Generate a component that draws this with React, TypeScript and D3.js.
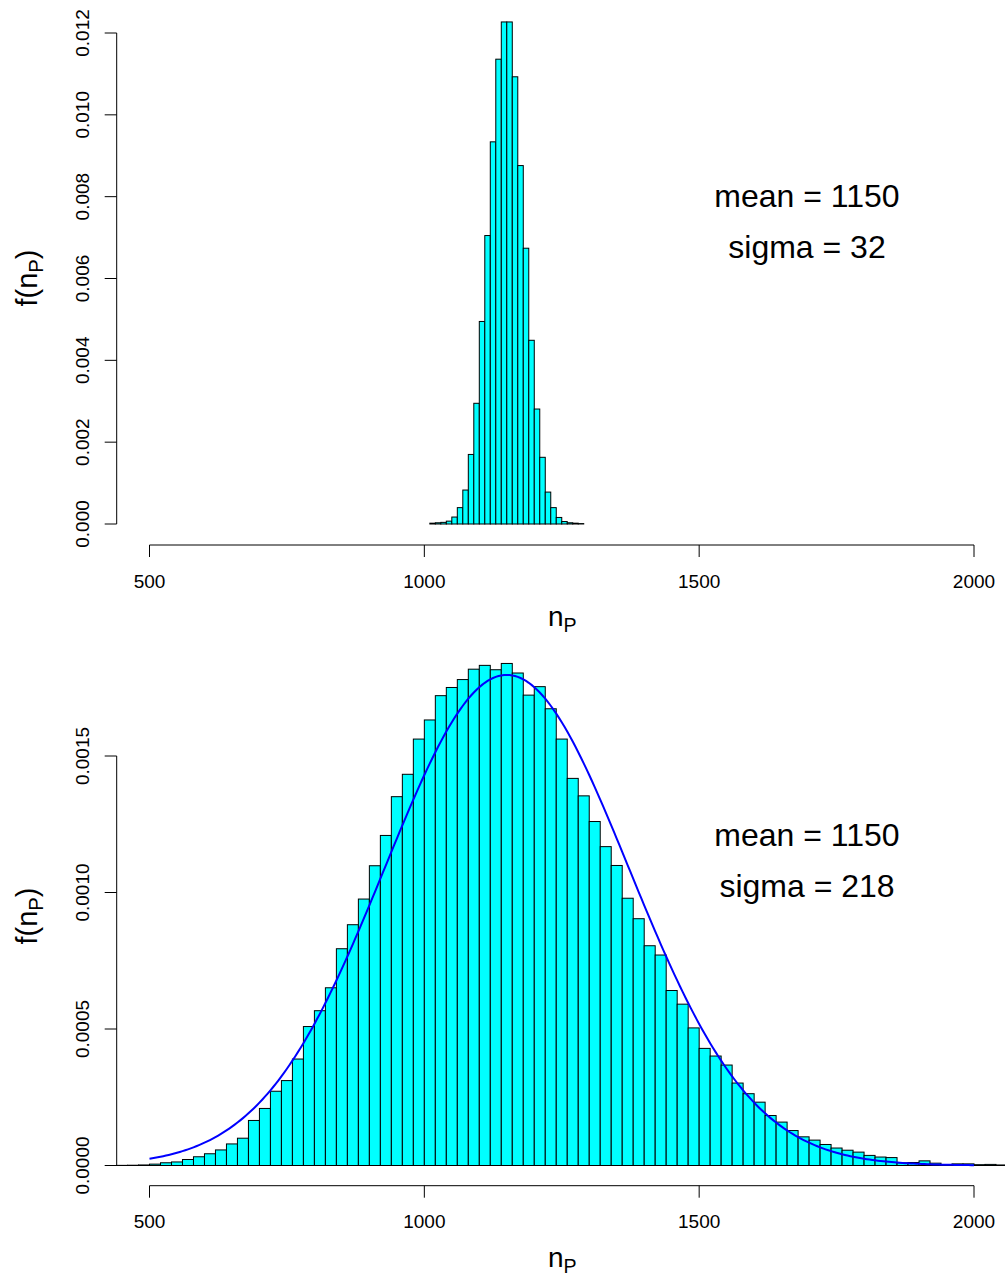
import React from "react";
import * as d3 from "d3";

// ---------- DATA ----------
const xTicks = [500, 1000, 1500, 2000];

// Top histogram (bin width 10, starting at 1010)
const topBinStart = 1010;
const topBinWidth = 10;
const topDensity = [
  0.00002, 0.00003, 0.00004, 0.00007, 0.00017, 0.0004, 0.00083, 0.0017,
  0.00295, 0.00495, 0.00705, 0.00934, 0.01136, 0.01227, 0.01227, 0.01093,
  0.00876, 0.00674, 0.00449, 0.00281, 0.00163, 0.00078, 0.0004, 0.00016,
  0.00006, 0.00003, 0.00002, 0.00001,
];
const topYTicks = [0, 0.002, 0.004, 0.006, 0.008, 0.01, 0.012];
const topYTickLabels = ["0.000", "0.002", "0.004", "0.006", "0.008", "0.010", "0.012"];
const topMean = "mean = 1150";
const topSigma = "sigma = 32";

// Bottom histogram (bin width 20, starting at 440)
const botBinStart = 440;
const botBinWidth = 20;
const botDensity = [
  0.0000005, 0.000001, 0.000002, 0.000005, 0.00001, 0.000013, 0.000022, 0.000032,
  0.000043, 0.000057, 0.000079, 0.0001, 0.000165, 0.000209, 0.000272, 0.000311,
  0.00039, 0.000509, 0.000567, 0.000651, 0.000794, 0.000882, 0.000976, 0.001098,
  0.001209, 0.001351, 0.001433, 0.001562, 0.001632, 0.001721, 0.001751, 0.00178,
  0.001818, 0.001832, 0.001816, 0.001839, 0.001804, 0.001723, 0.001754, 0.001673,
  0.001562, 0.001418, 0.001354, 0.00126, 0.001168, 0.001099, 0.000979, 0.000904,
  0.000805, 0.000771, 0.000641, 0.000591, 0.000504, 0.000429, 0.000401, 0.000368,
  0.000302, 0.000263, 0.000232, 0.000183, 0.000159, 0.000128, 0.000105, 0.000093,
  0.000077, 0.000064, 0.000056, 0.000049, 0.000037, 0.000031, 0.000029, 0.00001,
  0.000011, 0.000017, 0.0000085, 0.0000025, 0.000006, 0.000006, 0.000003, 0.000004,
  0.000002, 0.000001,
];
const botYTicks = [0, 0.0005, 0.001, 0.0015];
const botYTickLabels = ["0.0000", "0.0005", "0.0010", "0.0015"];
const botMean = "mean = 1150";
const botSigma = "sigma = 218";

// Fitted normal curve parameters (bottom panel)
const curveMean = 1150;
const curveSd = 222;
const curveFrom = 500;
const curveTo = 2000;

// ---------- LAYOUT ----------
const W = 1005;
const H = 1280;
const FONT = "'Liberation Sans', Arial, Helvetica, sans-serif";
const x = d3.scaleLinear().domain([500, 2000]).range([149.5, 974]);
const yTop = d3.scaleLinear().domain([0, 0.012]).range([524, 33]);
const yBot = d3.scaleLinear().domain([0, 0.0015]).range([1165.5, 756]);
const axisX = 116.7;

type PanelProps = {
  binStart: number;
  binWidth: number;
  density: number[];
  y: d3.ScaleLinear<number, number>;
  yTicks: number[];
  yTickLabels: string[];
  xAxisY: number;
  titleY: number;
  meanText: string;
  sigmaText: string;
  meanY: number;
  sigmaY: number;
  curve?: boolean;
};

function Panel(p: PanelProps) {
  const bars = p.density.map((d, i) => {
    const x0 = x(p.binStart + i * p.binWidth);
    const x1 = x(p.binStart + (i + 1) * p.binWidth);
    return { x0, x1, y0: p.y(0), y1: p.y(d) };
  });
  let curvePath: string | null = null;
  if (p.curve) {
    const pts = d3.range(curveFrom, curveTo + 0.001, 5).map((v) => [
      v,
      Math.exp(-0.5 * ((v - curveMean) / curveSd) ** 2) / (curveSd * Math.sqrt(2 * Math.PI)),
    ]);
    curvePath = d3
      .line<number[]>()
      .x((d) => x(d[0]))
      .y((d) => p.y(d[1]))(pts);
  }
  const yTop0 = p.y(p.yTicks[p.yTicks.length - 1]);
  const yBottom0 = p.y(p.yTicks[0]);
  return (
    <g>
      {bars.map((b, i) => (
        <rect
          key={i}
          x={b.x0}
          y={b.y1}
          width={b.x1 - b.x0}
          height={Math.max(0, b.y0 - b.y1)}
          fill="#00FFFF"
          stroke="#000"
          strokeWidth={1}
        />
      ))}
      {curvePath && <path d={curvePath} fill="none" stroke="#0000FF" strokeWidth={2} />}
      {/* y axis */}
      <line x1={axisX} x2={axisX} y1={yTop0} y2={yBottom0} stroke="#000" />
      {p.yTicks.map((t, i) => (
        <g key={i}>
          <line x1={axisX - 12} x2={axisX} y1={p.y(t)} y2={p.y(t)} stroke="#000" />
          <text
            transform={`translate(89,${p.y(t)}) rotate(-90)`}
            textAnchor="middle"
            fontSize={19}
            fontFamily={FONT}
          >
            {p.yTickLabels[i]}
          </text>
        </g>
      ))}
      {/* x axis */}
      <line x1={x(xTicks[0])} x2={x(xTicks[xTicks.length - 1])} y1={p.xAxisY} y2={p.xAxisY} stroke="#000" />
      {xTicks.map((t) => (
        <g key={t}>
          <line x1={x(t)} x2={x(t)} y1={p.xAxisY} y2={p.xAxisY + 12} stroke="#000" />
          <text x={x(t)} y={p.xAxisY + 42.5} textAnchor="middle" fontSize={19} fontFamily={FONT}>
            {t}
          </text>
        </g>
      ))}
      {/* x title */}
      <text x={548} y={p.xAxisY + 81} fontSize={28} fontFamily={FONT}>
        n
        <tspan fontSize={19.6} dy={6}>
          P
        </tspan>
      </text>
      {/* y title */}
      <text
        transform={`translate(37,${p.titleY}) rotate(-90)`}
        textAnchor="middle"
        fontSize={29}
        fontFamily={FONT}
      >
        f(n
        <tspan fontSize={20.3} dy={6}>
          P
        </tspan>
        <tspan dy={-6}>)</tspan>
      </text>
      {/* annotations */}
      <text x={807} y={p.meanY} textAnchor="middle" fontSize={32} fontFamily={FONT}>
        {p.meanText}
      </text>
      <text x={807} y={p.sigmaY} textAnchor="middle" fontSize={32} fontFamily={FONT}>
        {p.sigmaText}
      </text>
    </g>
  );
}

export default function App() {
  return (
    <svg
      width={W}
      height={H}
      viewBox={`0 0 ${W} ${H}`}
      style={{ position: "absolute", left: 0, top: 0, background: "#fff" }}
    >
      <rect x={0} y={0} width={W} height={H} fill="#fff" />
      <Panel
        binStart={topBinStart}
        binWidth={topBinWidth}
        density={topDensity}
        y={yTop}
        yTicks={topYTicks}
        yTickLabels={topYTickLabels}
        xAxisY={545}
        titleY={278}
        meanText={topMean}
        sigmaText={topSigma}
        meanY={207}
        sigmaY={258}
      />
      <Panel
        binStart={botBinStart}
        binWidth={botBinWidth}
        density={botDensity}
        y={yBot}
        yTicks={botYTicks}
        yTickLabels={botYTickLabels}
        xAxisY={1185.7}
        titleY={916}
        meanText={botMean}
        sigmaText={botSigma}
        meanY={846}
        sigmaY={897}
        curve
      />
    </svg>
  );
}
